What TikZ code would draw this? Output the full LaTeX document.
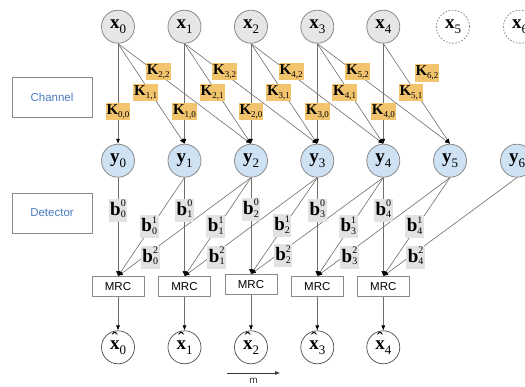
\documentclass[tikz,border=0pt]{standalone}
\usepackage{fontspec}
\setmainfont{Liberation Serif}
\setsansfont{Liberation Sans}
\usetikzlibrary{arrows.meta}

\definecolor{edgegray}{HTML}{6E6E6E}
\definecolor{circgray}{HTML}{8A8A8A}
\definecolor{xfill}{HTML}{E6E6E6}
\definecolor{yfill}{HTML}{CFE2F3}
\definecolor{kfill}{HTML}{F2C46E}
\definecolor{bfill}{HTML}{E2E2E2}
\definecolor{labelblue}{HTML}{4A7CC0}

% symbol with a lowered subscript, as used inside the circles
\newcommand{\vname}[2]{{\fontsize{19}{19}\selectfont\textbf{#1}}\raisebox{-5pt}{\fontsize{13}{13}\selectfont #2}}
% bold x with a circumflex
\newcommand{\hx}{\ooalign{\textbf{x}\cr\hidewidth\raisebox{3.5pt}{\mdseries\char"02C6}\hidewidth\cr}}
% channel tap label K_{a,b}
\newcommand{\klbl}[1]{{\fontsize{15}{15}\selectfont\textbf{K}}\raisebox{-3pt}{\fontsize{9}{9}\selectfont #1}}
% detector weight label b with stacked superscript and subscript
\newcommand{\blbl}[2]{{\fontsize{19}{19}\selectfont\textbf{b}}\raisebox{-2.5pt}{\fontsize{10}{10}\selectfont\begin{tabular}[b]{@{}l@{}}#1\\[1.2pt]#2\end{tabular}}}

\tikzset{
  xnode/.style={circle, draw=circgray, fill=xfill, line width=0.8pt, minimum size=33pt, inner sep=0pt},
  ynode/.style={xnode, fill=yfill},
  xfree/.style={circle, draw=circgray, line width=0.8pt, dash pattern=on 1.6pt off 1.6pt, minimum size=33pt, inner sep=0pt},
  hatnode/.style={circle, draw=black!70, fill=white, line width=0.7pt, minimum size=33pt, inner sep=0pt},
  mrcbox/.style={rectangle, draw=circgray, fill=white, line width=0.8pt, minimum width=52pt, minimum height=20pt, inner sep=0pt, font=\sffamily\fontsize{11.5}{11.5}\selectfont},
  sidebox/.style={rectangle, draw=circgray, fill=white, line width=0.8pt, minimum width=80pt, minimum height=40pt, text=labelblue, font=\sffamily\fontsize{11.5}{11.5}\selectfont},
  klab/.style={fill=kfill, inner xsep=1pt, inner ysep=1.5pt},
  blab/.style={fill=bfill, inner xsep=1.5pt, inner ysep=1pt},
  link/.style={draw=edgegray, line width=0.6pt, -{Latex[length=5pt,width=4pt,color=black]}},
}

\begin{document}
\begin{tikzpicture}[x=1pt,y=-1pt]
\fill[white] (0,0) rectangle (525,386);
\useasboundingbox (0,0) rectangle (525,386);

% side captions
\node[sidebox] (chan) at (52,97) {Channel};
\node[sidebox] (det) at (52,213) {Detector};

% transmitted symbols, combiners and estimates
\foreach \i/\cx/\my in {0/118/286.5, 1/184.5/286.5, 2/251/284.5, 3/317.3/286.5, 4/383.3/286.5} {
  \node[xnode] (x\i) at (\cx,26.7) {\vname{x}{\i}};
  \node[mrcbox] (m\i) at (\cx,\my) {MRC};
  \node[hatnode] (h\i) at (\cx,347.3) {\vname{\hx}{\i}};
}
\node[xfree] (x5) at (453,26.7) {\vname{x}{5}};
\node[xfree] (x6) at (520,26.7) {\vname{x}{6}};

% received samples
\foreach \i/\cx in {0/118, 1/184.5, 2/251, 3/317.3, 4/383.3, 5/450, 6/517}
  \node[ynode] (y\i) at (\cx,160.7) {\vname{y}{\i}};

% channel taps
\foreach \i in {0,...,4} \foreach \k in {0,1,2} {
  \pgfmathtruncatemacro\j{\i+\k}
  \ifnum\j<6 \draw[link] (x\i.south) -- (y\j.north); \fi
}
% detector weights
\foreach \i in {0,...,4} \foreach \k in {0,1,2} {
  \pgfmathtruncatemacro\j{\i+\k}
  \draw[link] (y\j.south) -- (m\i.north);
}
% combiner outputs
\foreach \i in {0,...,4}
  \draw[link] (m\i.south) -- (h\i.north);

% tap labels
\foreach \i in {0,...,4} \foreach \k in {0,1,2} {
  \pgfmathtruncatemacro\j{\i+\k}
  \pgfmathsetmacro\p{{0.68,0.49,0.28}[\k]}
  \pgfmathsetmacro\dx{{0,-5,3}[\k]}
  \ifnum\j<6
    \path (x\i.south) -- (y\j.north) node[klab, pos=\p, xshift=\dx pt] (k\j\k) {\klbl{\j,\k}};
  \fi
}
\node[klab] (k62) at (427,73) {\klbl{6,2}};

% weight labels
\foreach \i in {0,...,4} \foreach \k in {0,1,2} {
  \pgfmathtruncatemacro\j{\i+\k}
  \pgfmathsetmacro\p{{0.33,0.50,0.81}[\k]}
  \pgfmathsetmacro\dx{{0,-2,7}[\k]}
  \path (y\j.south) -- (m\i.north) node[blab, pos=\p, xshift=\dx pt] (b\i\k) {\blbl{\k}{\i}};
}

% time axis
\coordinate (ms) at (227,373);
\coordinate (me) at (280,373);
\draw[black!80, line width=0.6pt, -{Latex[length=5pt,width=4pt]}] (ms) -- (me)
  node[midway, below=5pt, font=\sffamily\fontsize{10}{10}\selectfont, inner sep=0pt] (mlab) {m};
\end{tikzpicture}
\end{document}
